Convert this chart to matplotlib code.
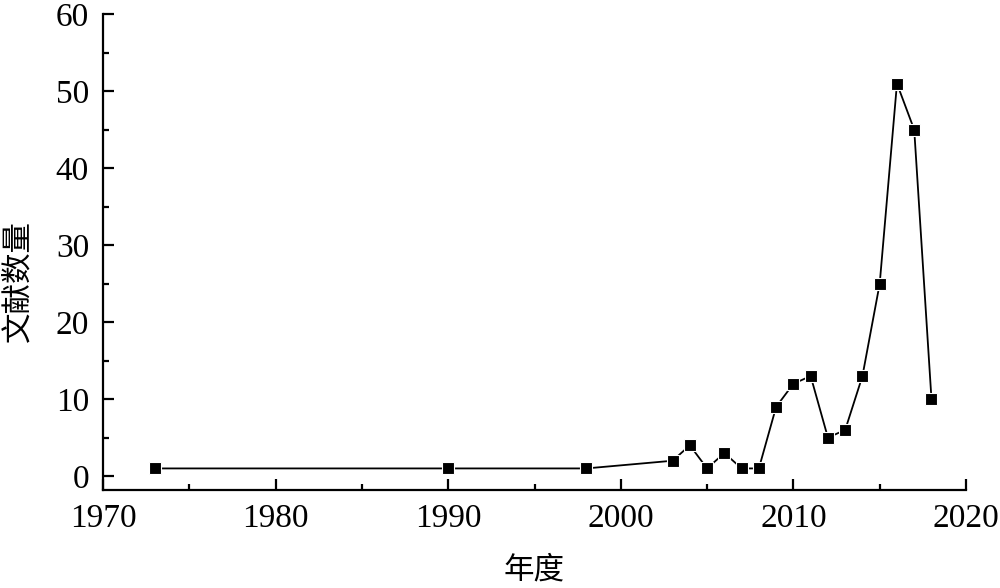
import numpy as np
import matplotlib.pyplot as plt
from matplotlib.ticker import MultipleLocator

# 数据
years = [1973, 1990, 1998, 2003, 2004, 2005, 2006, 2007, 2008, 2009,
         2010, 2011, 2012, 2013, 2014, 2015, 2016, 2017, 2018]
counts = [1, 1, 1, 2, 4, 1, 3, 1, 1, 9, 12, 13, 5, 6, 13, 25, 51, 45, 10]

plt.rcParams['font.family'] = ['Liberation Serif', 'Noto Sans CJK SC']

fig = plt.figure(figsize=(10, 5.88), dpi=100)
ax = fig.add_axes([0.103, 0.1667, 0.863, 0.809])

ax.plot(years, counts, color='black', linewidth=1.3, marker='s', markersize=9,
        markerfacecolor='black', markeredgecolor='white', markeredgewidth=0.8)

ax.set_xlim(1970, 2020)
ax.set_ylim(-1.8, 60)
ax.xaxis.set_major_locator(MultipleLocator(10))
ax.xaxis.set_minor_locator(MultipleLocator(5))
ax.yaxis.set_major_locator(MultipleLocator(10))
ax.yaxis.set_minor_locator(MultipleLocator(5))

for s in ['top', 'right']:
    ax.spines[s].set_visible(False)
for s in ['left', 'bottom']:
    ax.spines[s].set_linewidth(1.6)

ax.tick_params(which='major', direction='in', length=8, width=1.6, labelsize=24, pad=10)
ax.tick_params(which='minor', direction='in', length=4, width=1.6)

ax.set_xlabel('年度', fontsize=22, family=['Noto Sans CJK SC'])
ax.set_ylabel('文献数量', fontsize=22, family=['Noto Sans CJK SC'])
ax.xaxis.set_label_coords(0.5, -0.135)
ax.yaxis.set_label_coords(-0.099, 0.44)
ax.yaxis.label.set_verticalalignment('center')
ax.xaxis.label.set_verticalalignment('top')

fig.savefig('out.png', dpi=100)
